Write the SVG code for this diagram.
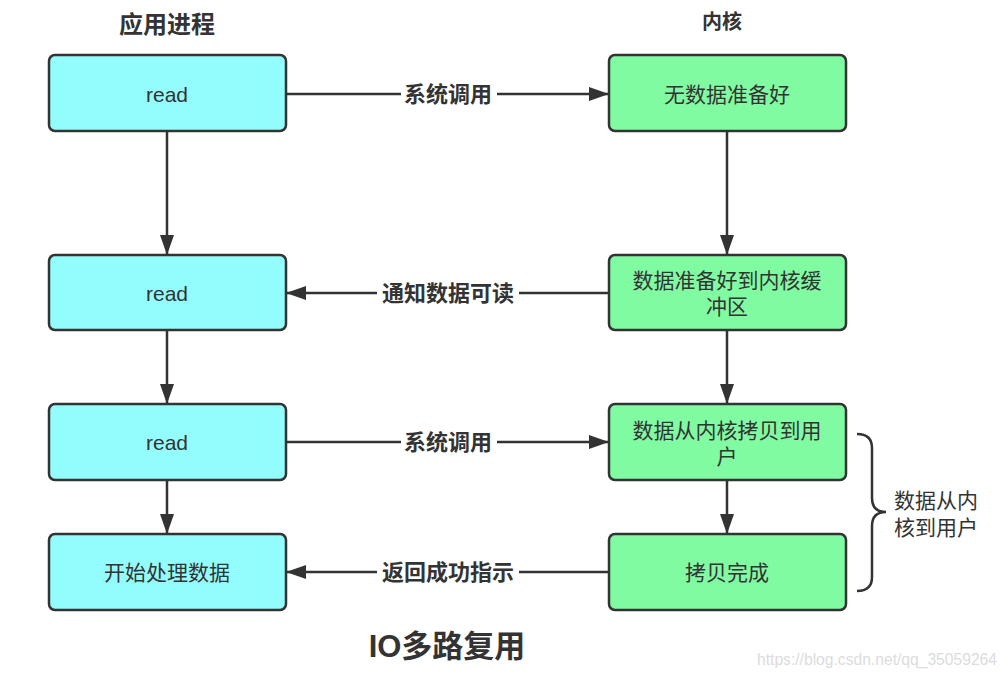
<svg xmlns="http://www.w3.org/2000/svg" width="1008" height="678" viewBox="0 0 1008 678">
<defs>
<marker id="ah" markerWidth="20" markerHeight="14" refX="19" refY="7" orient="auto" markerUnits="userSpaceOnUse">
<path d="M0,0 L20,7 L0,14 Z" fill="#333"/>
</marker>
<style>
.app{fill:#93fdfd;stroke:#333;stroke-width:2.5}
.ker{fill:#80fba2;stroke:#333;stroke-width:2.5}
.t{font-family:"Liberation Sans","Noto Sans CJK SC",sans-serif;font-size:21px;fill:#333;text-anchor:middle}
.lbl{font-family:"Liberation Sans","Noto Sans CJK SC",sans-serif;font-size:22px;fill:#333;text-anchor:middle;font-weight:bold}
.hd{font-family:"Liberation Sans","Noto Sans CJK SC",sans-serif;fill:#333;text-anchor:middle;font-weight:bold}
.ln{stroke:#333;stroke-width:2.5;fill:none}
</style>
</defs>
<rect width="1008" height="678" fill="#fff"/>
<text class="hd" x="167" y="33" font-size="24">应用进程</text>
<text class="hd" x="722" y="29" font-size="20">内核</text>

<g id="connectors">
<line class="ln" x1="167" y1="131" x2="167" y2="254" marker-end="url(#ah)"/>
<line class="ln" x1="167" y1="330" x2="167" y2="403" marker-end="url(#ah)"/>
<line class="ln" x1="167" y1="480" x2="167" y2="533" marker-end="url(#ah)"/>
<line class="ln" x1="727" y1="131" x2="727" y2="254" marker-end="url(#ah)"/>
<line class="ln" x1="727" y1="330" x2="727" y2="403" marker-end="url(#ah)"/>
<line class="ln" x1="727" y1="480" x2="727" y2="533" marker-end="url(#ah)"/>
<line class="ln" x1="286" y1="94" x2="608" y2="94" marker-end="url(#ah)"/>
<line class="ln" x1="609" y1="293" x2="287" y2="293" marker-end="url(#ah)"/>
<line class="ln" x1="286" y1="442" x2="608" y2="442" marker-end="url(#ah)"/>
<line class="ln" x1="609" y1="572" x2="287" y2="572" marker-end="url(#ah)"/>
<rect x="401" y="80" width="96" height="28" fill="#fff"/>
<text class="lbl" x="448" y="102">系统调用</text>
<rect x="377" y="279" width="142" height="28" fill="#fff"/>
<text class="lbl" x="448" y="301">通知数据可读</text>
<rect x="401" y="428" width="96" height="28" fill="#fff"/>
<text class="lbl" x="448" y="450">系统调用</text>
<rect x="377" y="558" width="142" height="28" fill="#fff"/>
<text class="lbl" x="448" y="580">返回成功指示</text>
</g>

<g id="app1"><rect class="app" x="49" y="55" width="237" height="76" rx="6"/><text class="t" x="167" y="102">read</text></g>
<g id="app2"><rect class="app" x="49" y="255" width="237" height="75" rx="6"/><text class="t" x="167" y="301">read</text></g>
<g id="app3"><rect class="app" x="49" y="404" width="237" height="76" rx="6"/><text class="t" x="167" y="450">read</text></g>
<g id="app4"><rect class="app" x="49" y="534" width="237" height="76" rx="6"/><text class="t" x="167" y="580">开始处理数据</text></g>

<g id="ker1"><rect class="ker" x="609" y="55" width="237" height="76" rx="6"/><text class="t" x="727" y="102">无数据准备好</text></g>
<g id="ker2"><rect class="ker" x="609" y="255" width="237" height="75" rx="6"/><text class="t" x="727" y="288">数据准备好到内核缓</text><text class="t" x="727" y="314">冲区</text></g>
<g id="ker3"><rect class="ker" x="609" y="404" width="237" height="76" rx="6"/><text class="t" x="727" y="438">数据从内核拷贝到用</text><text class="t" x="727" y="464">户</text></g>
<g id="ker4"><rect class="ker" x="609" y="534" width="237" height="76" rx="6"/><text class="t" x="727" y="580">拷贝完成</text></g>

<g id="brace">
<path class="ln" d="M857,434 Q872,434 872,448 L872,498 Q872,512 886,512 Q872,512 872,526 L872,577 Q872,591 857,591"/>
<text class="t" x="936" y="508">数据从内</text>
<text class="t" x="936" y="535">核到用户</text>
</g>

<text class="hd" x="447" y="657" font-size="31">IO多路复用</text>
<text x="757" y="665" font-family="Liberation Sans,sans-serif" font-size="16" fill="#dcdcdc" textLength="240" lengthAdjust="spacingAndGlyphs">https://blog.csdn.net/qq_35059264</text>
</svg>
